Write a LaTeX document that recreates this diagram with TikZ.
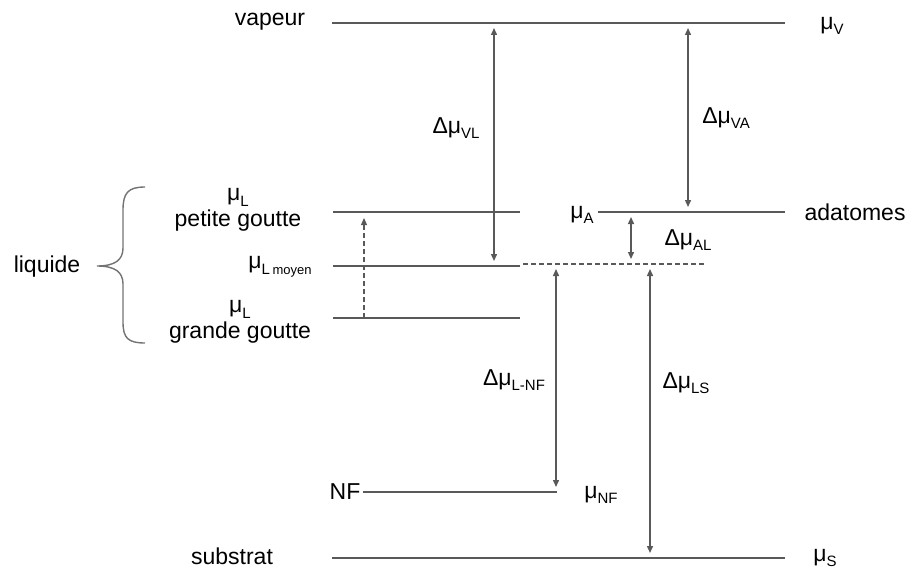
\documentclass[tikz,border=0pt]{standalone}
\usepackage{fontspec}
\setmainfont{Liberation Sans}
\usetikzlibrary{arrows.meta}
\newcommand{\sbs}[1]{\raisebox{-0.45ex}{\fontsize{7.5}{8}\selectfont #1}}
\tikzset{
    level/.style={draw=black!65, line width=0.75pt},
    dar/.style={black!65, line width=0.7pt, {Triangle[length=3.5pt,width=3pt]}-{Triangle[length=3.5pt,width=3pt]}, shorten <=2.5pt, shorten >=2.5pt},
    lbl/.style={inner sep=1pt, font=\fontsize{11.5}{12}\selectfont}
}
\begin{document}
\begin{tikzpicture}[x=0.5pt, y=-0.5pt, every node/.style={lbl}]
    \useasboundingbox (0,0) rectangle (913,572);
    % niveaux
    \node (vap) at (270,22) {vapeur};
    \node[anchor=west] (muV) at (818,26) {μ\sbs{V}};
    \coordinate (vapL) at (332,23);
    \coordinate (vapR) at (785,23);
    \draw[level] (vapL) -- (vapR);

    \node[align=center] (pg) at (238,210) {μ\sbs{L}\\[1pt]petite goutte};
    \coordinate (pgL) at (333,212);
    \coordinate (pgR) at (520,212);
    \draw[level] (pgL) -- (pgR);

    \node[anchor=east] (muA) at (596,215) {μ\sbs{A}};
    \node (ada) at (855,212) {adatomes};
    \coordinate (adaL) at (598,212);
    \coordinate (adaR) at (785,212);
    \draw[level] (adaL) -- (adaR);

    \node[anchor=east] (moy) at (314,267) {μ\sbs{L\,\fontsize{6.5}{7}\selectfont moyen}};
    \coordinate (moyL) at (333,266);
    \coordinate (moyR) at (520,266);
    \coordinate (dshL) at (523,264);
    \coordinate (dshR) at (707,264);
    \draw[level] (moyL) -- (moyR);
    \draw[level, line width=0.6pt, dash pattern=on 2.5pt off 1.5pt] (dshL) -- (dshR);

    \node[align=center] (gg) at (240,322) {μ\sbs{L}\\[1pt]grande goutte};
    \coordinate (ggL) at (333,318);
    \coordinate (ggR) at (520,318);
    \draw[level] (ggL) -- (ggR);

    \node (nf) at (345,492) {NF};
    \node[anchor=west] (muNF) at (582,495) {μ\sbs{NF}};
    \coordinate (nfR) at (557,492);
    \draw[level] (nf.east) -- (nfR);

    \node (sub) at (232,556) {substrat};
    \node[anchor=west] (muS) at (811,558) {μ\sbs{S}};
    \coordinate (subL) at (332,558);
    \coordinate (subR) at (785,558);
    \draw[level] (subL) -- (subR);

    % accolade
    \node (liq) at (47,267) {liquide};
    \draw[black!55, line width=0.7pt] (145,187) .. controls (128,187) and (123,193) .. (123,210)
        -- (123,248) .. controls (123,260) and (115,266) .. (97,266)
        .. controls (115,266) and (123,272) .. (123,284)
        -- (123,322) .. controls (123,338) and (128,343) .. (145,343);

    % ecarts
    \draw[dar] (494,23) -- (494,266);
    \node (dVL) at (456,128) {Δμ\sbs{VL}};
    \draw[dar] (688,23) -- (688,212);
    \node (dVA) at (726,118) {Δμ\sbs{VA}};
    \draw[dar] (631,212) -- (631,264);
    \node (dAL) at (688,240) {Δμ\sbs{AL}};
    \draw[black!65, line width=0.6pt, dash pattern=on 2.5pt off 1.5pt, -{Triangle[length=3.5pt,width=3pt]}, shorten >=3pt] (364,318) -- (364,212);
    \draw[dar] (556,264) -- (556,492);
    \node (dLNF) at (514,380) {Δμ\sbs{L-NF}};
    \draw[dar] (650,264) -- (650,558);
    \node (dLS) at (686,383) {Δμ\sbs{LS}};
\end{tikzpicture}
\end{document}
